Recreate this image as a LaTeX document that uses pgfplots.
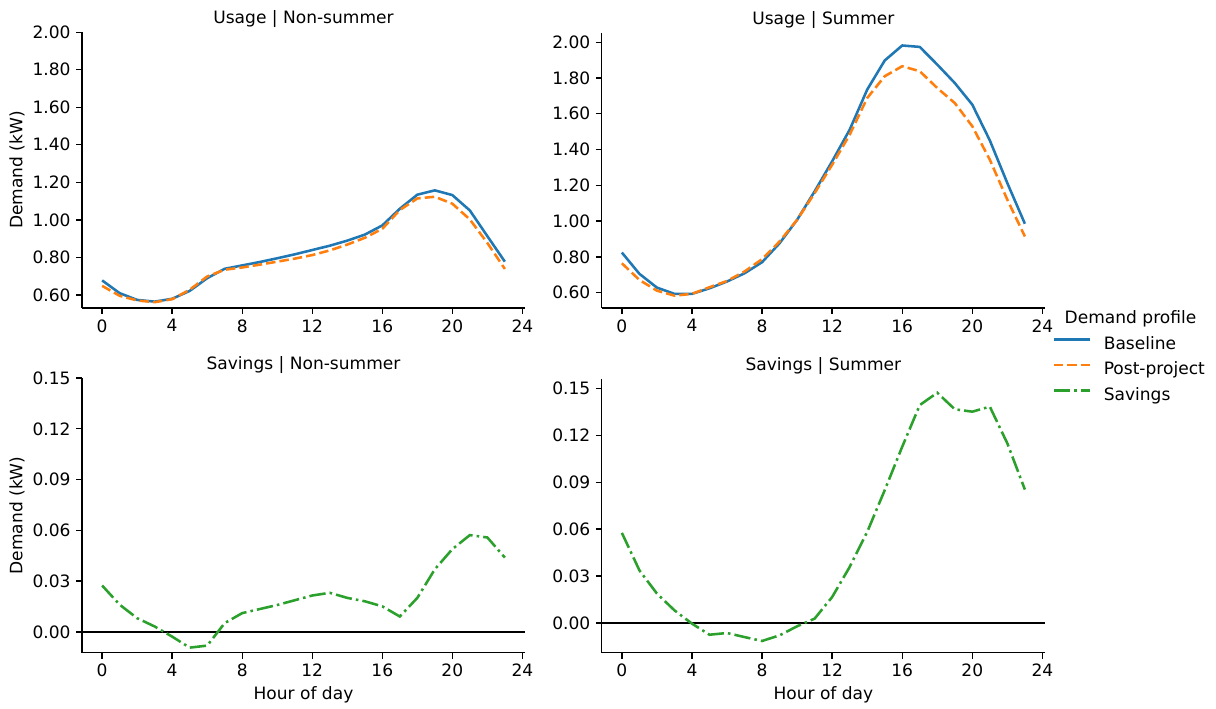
\documentclass[border=0pt]{standalone}
\usepackage{fontspec}
\setmainfont{DejaVu Sans}
\usepackage{pgfplots}
\pgfplotsset{compat=1.18}

\definecolor{tabblue}{RGB}{31,119,180}
\definecolor{taborange}{RGB}{255,127,14}
\definecolor{tabgreen}{RGB}{44,160,44}

\newcommand{\figfont}{\fontsize{11}{13}\selectfont}

\pgfplotsset{
  panel/.style={
    scale only axis,
    axis x line*=bottom, axis y line*=left,
    axis line style={-, line width=0.88pt, black},
    tick align=outside,
    major tick length=3.85pt,
    tick style={line width=0.88pt, black},
    xmin=-1.15, xmax=24.15,
    xtick={0,4,8,12,16,20,24},
    no markers,
    /pgf/number format/assume math mode=true,
    y tick label style={/pgf/number format/.cd, fixed, fixed zerofill, precision=2},
    every tick label/.append style={font=\figfont},
    title style={at={(0.5,1)}, anchor=base, yshift=-0.6pt, font=\figfont},
    label style={font=\figfont},
    legend image code/.code={\draw[##1] (0pt,3.5pt) -- (23pt,3.5pt);},
  },
  base/.style={tabblue, line width=1.65pt, line join=round},
  post/.style={taborange, line width=1.65pt, dash pattern=on 6.1pt off 2.64pt},
  sav/.style={tabgreen, line width=1.65pt, dash pattern=on 10.56pt off 2.64pt on 1.65pt off 2.64pt},
  zero/.style={black, line width=1.65pt},
}

\begin{document}
\begin{tikzpicture}

% Usage | Non-summer
\begin{axis}[panel,
    at={(52.9pt,258.7pt)}, anchor=south west,
    width=285.8pt, height=177.9pt,
    ymin=0.53, ymax=2.0,
    ytick={0.6,0.8,1.0,1.2,1.4,1.6,1.8,2.0},
    title={Usage | Non-summer},
    ylabel={Demand (kW)},
    ylabel style={at={(-0.1466,0.5)}, anchor=center},
  ]
  \addplot[base] coordinates {
    (0,0.677) (1,0.609) (2,0.573) (3,0.564) (4,0.579) (5,0.621)
    (6,0.689) (7,0.739) (8,0.757) (9,0.775) (10,0.795) (11,0.816)
    (12,0.839) (13,0.862) (14,0.889) (15,0.921) (16,0.970) (17,1.059)
    (18,1.134) (19,1.157) (20,1.132) (21,1.050) (22,0.913) (23,0.777)
  };
  \addplot[post] coordinates {
    (0,0.648) (1,0.595) (2,0.570) (3,0.561) (4,0.577) (5,0.627)
    (6,0.698) (7,0.734) (8,0.746) (9,0.761) (10,0.777) (11,0.793)
    (12,0.812) (13,0.837) (14,0.868) (15,0.904) (16,0.952) (17,1.052)
    (18,1.114) (19,1.123) (20,1.086) (21,1.002) (22,0.877) (23,0.738)
  };
\end{axis}

% Usage | Summer
\begin{axis}[panel,
    at={(388.2pt,258.7pt)}, anchor=south west,
    width=286pt, height=177.2pt,
    ymin=0.514, ymax=2.05,
    ytick={0.6,0.8,1.0,1.2,1.4,1.6,1.8,2.0},
    title={Usage | Summer},
    legend style={draw=none, fill=none, at={(1.017,-0.0109)}, anchor=north west,
      inner sep=0pt, outer sep=0pt, row sep=5.45pt, column sep=8.4pt,
      font=\figfont,
      nodes={inner sep=0pt, text height=8.4pt, text depth=2.6pt}},
    legend cell align=left,
  ]
  \addlegendimage{empty legend}
  \addlegendentry{\hspace*{-25.2pt}Demand profile}
  \addplot[base] coordinates {
    (0,0.824) (1,0.705) (2,0.628) (3,0.593) (4,0.593) (5,0.624)
    (6,0.662) (7,0.708) (8,0.770) (9,0.876) (10,1.007) (11,1.166)
    (12,1.334) (13,1.511) (14,1.735) (15,1.898) (16,1.982) (17,1.974)
    (18,1.875) (19,1.772) (20,1.651) (21,1.451) (22,1.212) (23,0.985)
  };
  \addlegendentry{Baseline}
  \addplot[post] coordinates {
    (0,0.764) (1,0.671) (2,0.611) (3,0.583) (4,0.593) (5,0.630)
    (6,0.665) (7,0.718) (8,0.787) (9,0.886) (10,1.007) (11,1.156)
    (12,1.315) (13,1.483) (14,1.688) (15,1.810) (16,1.866) (17,1.838)
    (18,1.744) (19,1.660) (20,1.530) (21,1.343) (22,1.119) (23,0.914)
  };
  \addlegendentry{Post-project}
  \addlegendimage{sav}
  \addlegendentry{Savings}
\end{axis}

% Savings | Non-summer
\begin{axis}[panel,
    at={(52.9pt,36.3pt)}, anchor=south west,
    width=285.8pt, height=177.2pt,
    ymin=-0.0123, ymax=0.15,
    ytick={0,0.03,0.06,0.09,0.12,0.15},
    title={Savings | Non-summer},
    ylabel={Demand (kW)},
    ylabel style={at={(-0.1466,0.5)}, anchor=center},
    xlabel={Hour of day},
    xlabel style={at={(0.5,-0.1687)}, anchor=base},
  ]
  \addplot[zero] coordinates {(-1.15,0) (24.15,0)};
  \addplot[sav] coordinates {
    (0,0.0274) (1,0.0161) (2,0.0081) (3,0.0032) (4,-0.0028) (5,-0.0093)
    (6,-0.0081) (7,0.0052) (8,0.0111) (9,0.0135) (10,0.0159) (11,0.0187)
    (12,0.0215) (13,0.0231) (14,0.0201) (15,0.0181) (16,0.0151) (17,0.0091)
    (18,0.0201) (19,0.0370) (20,0.0489) (21,0.0572) (22,0.0558) (23,0.0439)
  };
\end{axis}

% Savings | Summer
\begin{axis}[panel,
    at={(388.2pt,36.3pt)}, anchor=south west,
    width=286pt, height=176.4pt,
    ymin=-0.019, ymax=0.1558,
    ytick={0,0.03,0.06,0.09,0.12,0.15},
    title={Savings | Summer},
    xlabel={Hour of day},
    xlabel style={at={(0.5,-0.1693)}, anchor=base},
  ]
  \addplot[zero] coordinates {(-1.15,0) (24.15,0)};
  \addplot[sav] coordinates {
    (0,0.0576) (1,0.0337) (2,0.0188) (3,0.0081) (4,-0.0004) (5,-0.0075)
    (6,-0.0064) (7,-0.0090) (8,-0.0115) (9,-0.0079) (10,-0.0021) (11,0.0028)
    (12,0.0166) (13,0.0358) (14,0.0582) (15,0.0849) (16,0.1127) (17,0.1393)
    (18,0.1472) (19,0.1366) (20,0.1351) (21,0.1383) (22,0.1148) (23,0.0853)
  };
\end{axis}

\pgfresetboundingbox
\path[use as bounding box] (0pt,0pt) rectangle (784.5pt,457.4pt);
\end{tikzpicture}
\end{document}
